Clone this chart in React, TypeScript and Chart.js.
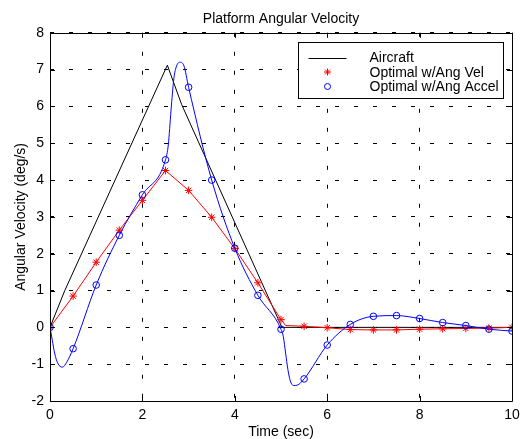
import React, { useEffect, useRef } from "react";
import { Chart, registerables } from "chart.js";

Chart.register(...registerables);

// ---- Data ----
const aircraftTime = [0, 0.32, 2.54, 2.85, 5.02, 10];
const aircraftVel = [0, 1.0, 7.12, 6.05, 0, 0];

const angVelTime = [0, 0.5, 1, 1.5, 2, 2.5, 3, 3.5, 4, 4.5, 5, 5.1, 5.5, 6, 6.5, 7, 7.5, 8, 8.5, 9, 9.5, 10];
const angVelVals = [0, 0.85, 1.77, 2.64, 3.45, 4.26, 3.72, 2.99, 2.14, 1.21, 0.21, 0.05, 0.03, -0.01, -0.06, -0.07, -0.07, -0.05, -0.04, -0.03, -0.02, 0.0];

const angAccTime = [0, 0.05, 0.1, 0.17, 0.27, 0.36, 0.5, 1, 1.5, 2, 2.5, 2.56, 2.62, 2.68, 2.74, 2.82, 2.9, 3, 3.5, 4, 4.5, 5, 5.05, 5.1, 5.15, 5.2, 5.27, 5.35, 5.5, 6, 6.5, 7, 7.5, 8, 8.5, 9, 9.5, 10];
const angAccVals = [0, -0.35, -0.7, -0.98, -1.08, -0.95, -0.58, 1.15, 2.5, 3.6, 4.55, 4.95, 5.9, 6.75, 7.1, 7.2, 7.1, 6.52, 4.0, 2.15, 0.87, -0.05, -0.25, -0.7, -1.15, -1.45, -1.58, -1.57, -1.4, -0.48, 0.08, 0.3, 0.32, 0.24, 0.13, 0.05, -0.05, -0.1];

const seriesLabels = ["Aircraft", "Optimal w/Ang Vel", "Optimal w/Ang Accel"];
const chartTitle = "Platform Angular Velocity";
const xTitle = "Time (sec)";
const yTitle = "Angular Velocity (deg/s)";
const xMin = 0, xMax = 10, xStep = 2;
const yMin = -2, yMax = 8, yStep = 1;

const FONT = "'Liberation Sans', Arial, Helvetica, sans-serif";

const toPts = (t: number[], v: number[]) => t.map((x, i) => ({ x, y: v[i] }));
const isMarker = (x: number) => Math.abs(x * 2 - Math.round(x * 2)) < 1e-6;

const framePlugin = {
  id: "matlabFrame",
  afterDraw(chart: any) {
    const { ctx, chartArea: a, scales } = chart;
    ctx.save();
    ctx.strokeStyle = "#000";
    ctx.lineWidth = 1;
    ctx.setLineDash([]);
    ctx.beginPath();
    ctx.rect(Math.round(a.left) + 0.5, Math.round(a.top) + 0.5, Math.round(a.right - a.left), Math.round(a.bottom - a.top));
    ctx.stroke();
    const tl = 5;
    ctx.beginPath();
    scales.x.ticks.forEach((t: any) => {
      const px = Math.round(scales.x.getPixelForValue(t.value)) + 0.5;
      ctx.moveTo(px, a.bottom); ctx.lineTo(px, a.bottom - tl);
      ctx.moveTo(px, a.top); ctx.lineTo(px, a.top + tl);
    });
    scales.y.ticks.forEach((t: any) => {
      const py = Math.round(scales.y.getPixelForValue(t.value)) + 0.5;
      ctx.moveTo(a.left, py); ctx.lineTo(a.left + tl, py);
      ctx.moveTo(a.right, py); ctx.lineTo(a.right - tl, py);
    });
    ctx.stroke();

    // legend box
    const ds = chart.data.datasets;
    const bw = 205, bh = 56;
    const bx = Math.round(a.right - 9 - bw) + 0.5;
    const by = Math.round(a.top + 9) + 0.5;
    ctx.fillStyle = "#fff";
    ctx.fillRect(bx, by, bw, bh);
    ctx.strokeRect(bx, by, bw, bh);
    ctx.font = `14px ${FONT}`;
    ctx.textBaseline = "middle";
    ctx.textAlign = "left";
    const rowY = [by + 15, by + 29.5, by + 44];
    const symX = bx + 29;
    // row 0: line
    ctx.strokeStyle = ds[0].borderColor;
    ctx.beginPath();
    ctx.moveTo(bx + 10, Math.round(rowY[0]) + 0.5);
    ctx.lineTo(bx + 48, Math.round(rowY[0]) + 0.5);
    ctx.stroke();
    // row 1: star
    ctx.strokeStyle = ds[1].borderColor;
    const r = 3.5;
    const cy1 = rowY[1];
    ctx.beginPath();
    ctx.moveTo(symX - r, cy1); ctx.lineTo(symX + r, cy1);
    ctx.moveTo(symX, cy1 - r); ctx.lineTo(symX, cy1 + r);
    const d = r * 0.7071;
    ctx.moveTo(symX - d, cy1 - d); ctx.lineTo(symX + d, cy1 + d);
    ctx.moveTo(symX - d, cy1 + d); ctx.lineTo(symX + d, cy1 - d);
    ctx.stroke();
    // row 2: circle
    ctx.strokeStyle = ds[2].borderColor;
    ctx.beginPath();
    ctx.arc(symX, rowY[2], 3, 0, Math.PI * 2);
    ctx.stroke();
    ctx.fillStyle = "#000";
    ds.forEach((dset: any, i: number) => {
      ctx.fillText(dset.label, bx + 71, rowY[i] + 1);
    });
    ctx.restore();
  },
};

export default function App() {
  const ref = useRef<HTMLCanvasElement | null>(null);
  useEffect(() => {
    if (!ref.current) return;
    Chart.defaults.font.family = FONT;
    Chart.defaults.font.size = 14;
    Chart.defaults.color = "#000";
    const chart = new Chart(ref.current, {
      type: "line",
      data: {
        datasets: [
          {
            label: seriesLabels[0],
            data: toPts(aircraftTime, aircraftVel),
            borderColor: "#000000",
            borderWidth: 1,
            pointRadius: 0,
            tension: 0,
            order: 3,
          },
          {
            label: seriesLabels[1],
            data: toPts(angVelTime, angVelVals),
            borderColor: "#ff0000",
            borderWidth: 1,
            pointStyle: "star",
            pointRadius: (c: any) => (isMarker(c.raw.x) ? 3.8 : 0),
            pointBorderColor: "#ff0000",
            pointBackgroundColor: "#ff0000",
            pointBorderWidth: 1,
            tension: 0,
            order: 2,
          },
          {
            label: seriesLabels[2],
            data: toPts(angAccTime, angAccVals),
            borderColor: "#0000ff",
            borderWidth: 1,
            pointStyle: "circle",
            pointRadius: (c: any) => (isMarker(c.raw.x) ? 3.3 : 0),
            pointBorderColor: "#0000ff",
            pointBackgroundColor: "rgba(0,0,0,0)",
            pointBorderWidth: 1,
            cubicInterpolationMode: "monotone",
            order: 1,
          },
        ],
      },
      options: {
        animation: false,
        responsive: true,
        maintainAspectRatio: false,
        layout: { padding: { top: 0, right: 15, bottom: 0, left: 0 } },
        plugins: {
          legend: { display: false },
          tooltip: { enabled: false },
          title: {
            display: true,
            text: chartTitle,
            fullSize: false,
            color: "#000",
            font: { size: 14, weight: "normal", family: FONT },
            padding: { top: 11, bottom: 5 },
          },
        },
        scales: {
          x: {
            type: "linear",
            min: xMin,
            max: xMax,
            ticks: { stepSize: xStep, padding: 6, color: "#000", font: { size: 14 }, maxRotation: 0 },
            grid: { color: "#000", lineWidth: 1, drawTicks: false },
            border: { display: false, dash: [4, 15] },
            title: { display: true, text: xTitle, color: "#000", font: { size: 14 }, padding: { top: 0, bottom: -1.5 } },
            afterFit: (s: any) => { s.height = 38; },
          },
          y: {
            type: "linear",
            min: yMin,
            max: yMax,
            ticks: { stepSize: yStep, padding: 6, color: "#000", font: { size: 14 } },
            grid: { color: "#000", lineWidth: 1, drawTicks: false },
            border: { display: false, dash: [4, 15] },
            title: { display: true, text: yTitle, color: "#000", font: { size: 14 }, padding: { top: 13, bottom: 0 } },
            afterFit: (s: any) => { s.width = 50; },
          },
        },
      },
      plugins: [framePlugin],
    } as any);
    return () => chart.destroy();
  }, []);
  return (
    <div style={{ position: "absolute", left: 0, top: 0, width: 527, height: 439, background: "#fff" }}>
      <canvas ref={ref} />
    </div>
  );
}
